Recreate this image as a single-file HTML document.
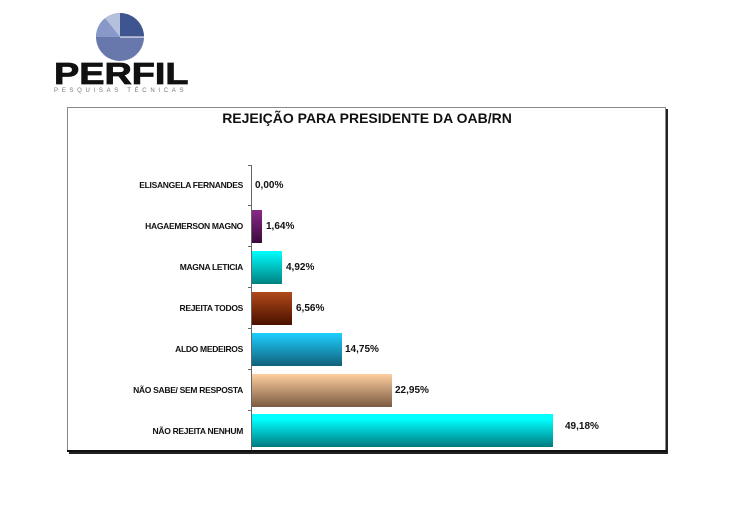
<!DOCTYPE html>
<html><head><meta charset="utf-8"><style>
body{margin:0;width:750px;height:505px;background:#fff;overflow:hidden;position:relative;font-family:"Liberation Sans",sans-serif}
.a{position:absolute}
.lab{position:absolute;right:507px;font-size:8.5px;font-weight:bold;color:#111;white-space:nowrap;letter-spacing:-0.3px}
.val{position:absolute;font-size:10px;font-weight:bold;color:#111}
.bar{position:absolute;left:252px;height:33px}
</style></head><body>
<svg class="a" style="left:95px;top:12px" width="50" height="50" viewBox="-25 -25 50 50">
<circle r="24" fill="#6878ad"/>
<path d="M0 0 L0 -24 A24 24 0 0 1 24 0 Z" fill="#3f5590"/>
<path d="M0 0 L-24 0 A24 24 0 0 1 -15 -18.7 Z" fill="#8898c8"/>
<path d="M0 0 L-15 -18.7 A24 24 0 0 1 0 -24 Z" fill="#b5c0dc"/>
<path d="M0 0 L24 0" stroke="#fff" stroke-width="1"/>
</svg>
<div class="a" style="left:54px;top:58px;font-size:31px;font-weight:900;color:#111;transform:scaleX(1.22);transform-origin:left;line-height:32px;-webkit-text-stroke:0.8px #111">PERFIL</div>
<div class="a" style="left:54px;top:88px;font-size:6px;letter-spacing:3.7px;color:#777">PESQUISAS TÉCNICAS</div>
<div class="a" style="left:67px;top:107px;width:597px;height:343px;border:1px solid #888;box-shadow:2px 2px 0 #222"></div>
<div class="a" style="left:67px;top:110px;width:600px;text-align:center;font-size:14px;font-weight:bold;color:#111">REJEIÇÃO PARA PRESIDENTE DA OAB/RN</div>
<div class="a" style="left:251px;top:165px;width:1px;height:286px;background:#666"></div>
<div class="a" style="left:67px;top:450px;width:600px;height:2px;background:#111"></div>
<div class="a" style="left:248px;top:165px;width:3px;height:1px;background:#666"></div>
<div class="a" style="left:248px;top:205px;width:3px;height:1px;background:#666"></div>
<div class="a" style="left:248px;top:246px;width:3px;height:1px;background:#666"></div>
<div class="a" style="left:248px;top:287px;width:3px;height:1px;background:#666"></div>
<div class="a" style="left:248px;top:328px;width:3px;height:1px;background:#666"></div>
<div class="a" style="left:248px;top:369px;width:3px;height:1px;background:#666"></div>
<div class="a" style="left:248px;top:410px;width:3px;height:1px;background:#666"></div>

<div class="lab" style="top:180px">ELISANGELA FERNANDES</div><div class="val" style="left:255px;top:180px">0,00%</div>
<div class="lab" style="top:221px">HAGAEMERSON MAGNO</div>
<div class="bar" style="top:210px;width:10px;background:linear-gradient(#8a2a8a,#3a0a3a)"></div><div class="val" style="left:266px;top:221px">1,64%</div>
<div class="lab" style="top:262px">MAGNA LETICIA</div>
<div class="bar" style="top:251px;width:30px;background:linear-gradient(#00ffff,#008080)"></div><div class="val" style="left:286px;top:262px">4,92%</div>
<div class="lab" style="top:303px">REJEITA TODOS</div>
<div class="bar" style="top:292px;width:40px;background:linear-gradient(#b04a1a,#4a1000)"></div><div class="val" style="left:296px;top:303px">6,56%</div>
<div class="lab" style="top:344px">ALDO MEDEIROS</div>
<div class="bar" style="top:333px;width:90px;background:linear-gradient(#1ecfff,#12607a)"></div><div class="val" style="left:345px;top:344px">14,75%</div>
<div class="lab" style="top:385px">NÃO SABE/ SEM RESPOSTA</div>
<div class="bar" style="top:374px;width:140px;background:linear-gradient(#ffcf9f,#7a5a42)"></div><div class="val" style="left:395px;top:385px">22,95%</div>
<div class="lab" style="top:426px">NÃO REJEITA NENHUM</div>
<div class="bar" style="top:414px;width:301px;background:linear-gradient(#00ffff 15%,#007a80)"></div><div class="val" style="left:565px;top:421px">49,18%</div>
</body></html>
